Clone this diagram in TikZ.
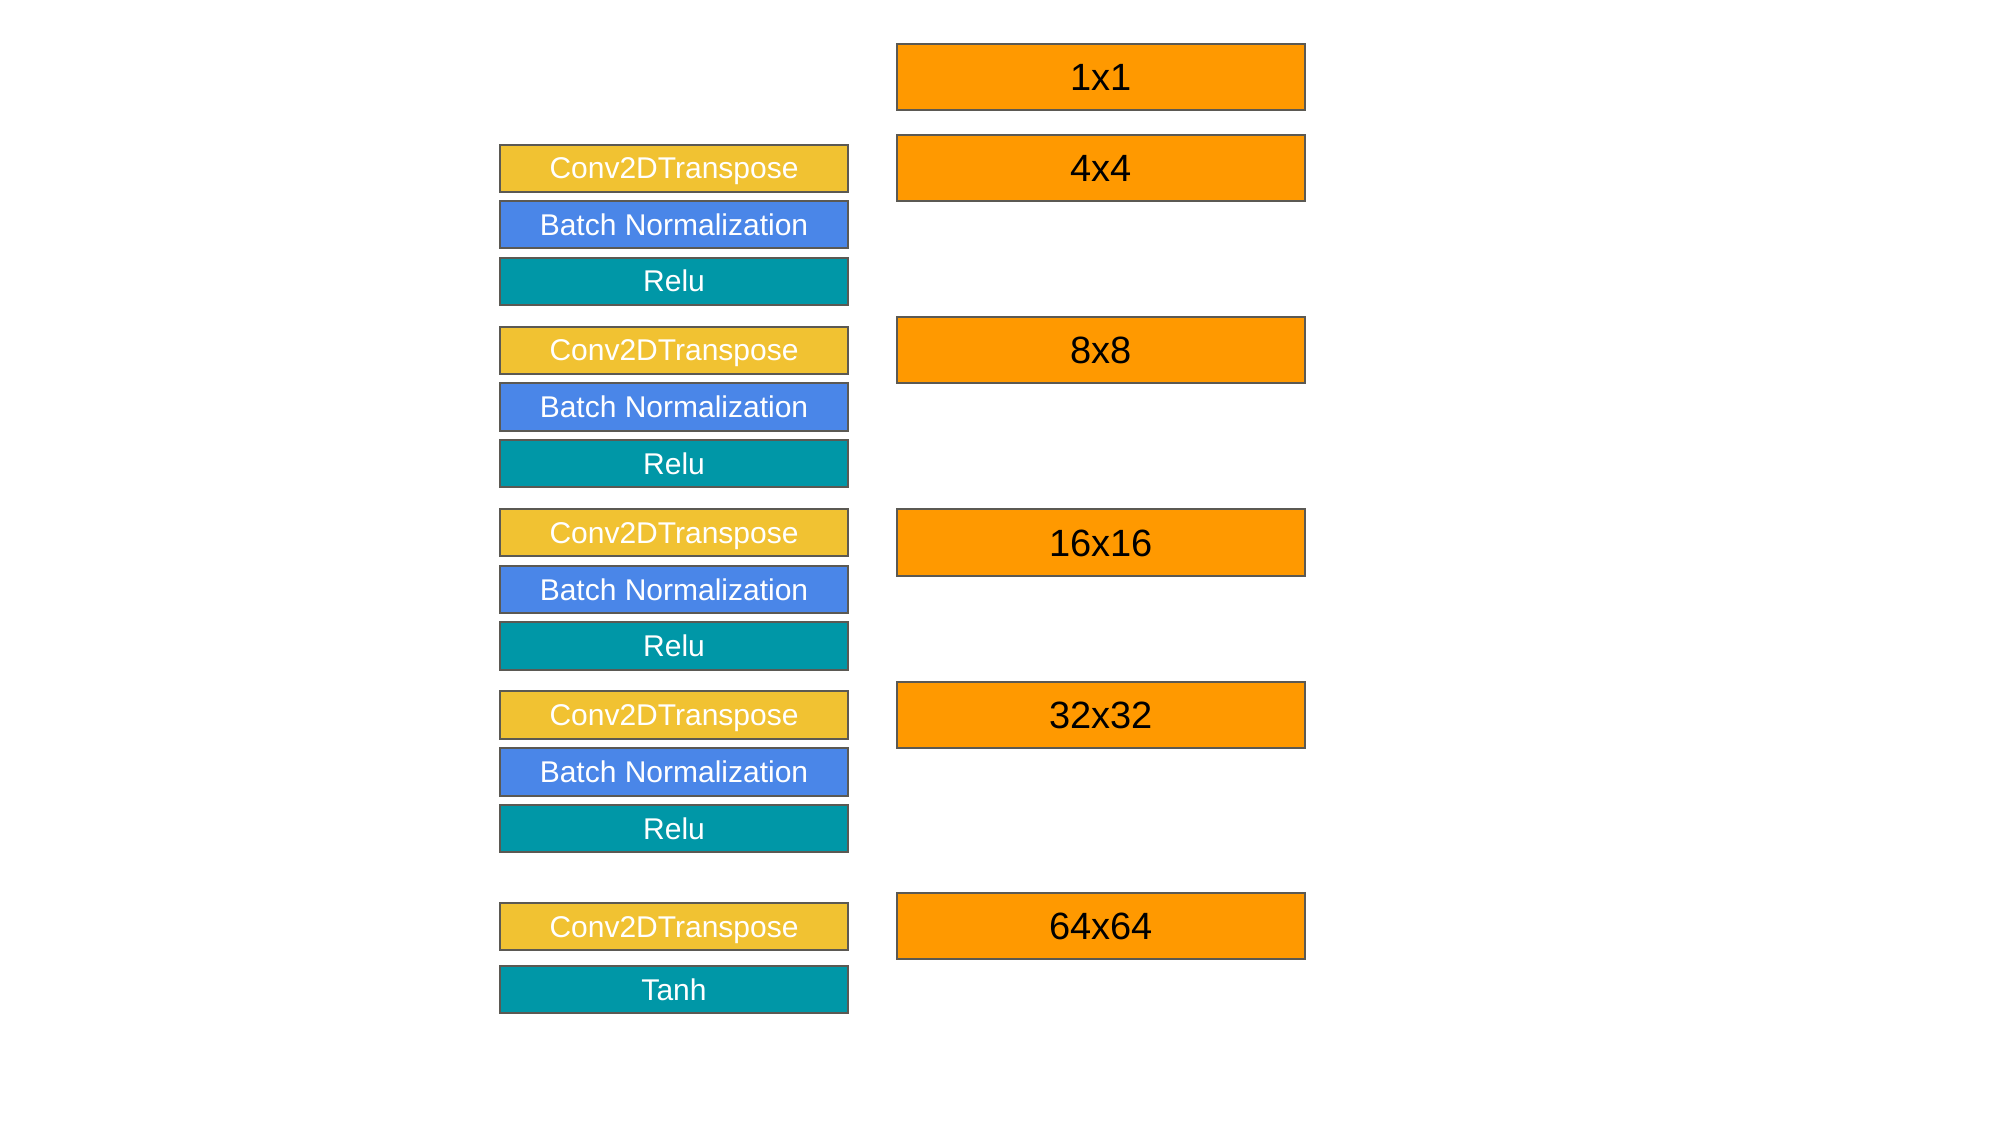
\documentclass[tikz,border=0pt]{standalone}
\usepackage{fontspec}
\setmainfont{Liberation Sans}
\definecolor{convc}{HTML}{F1C232}
\definecolor{bnc}{HTML}{4A86E8}
\definecolor{actc}{HTML}{0097A7}
\definecolor{sizec}{HTML}{FF9900}
\definecolor{edgec}{HTML}{5B5953}
\tikzset{
  layerbox/.style={draw=edgec, line width=1pt, inner sep=0pt, minimum width=174pt, minimum height=23.6pt, text=white, text height=10.74pt, text depth=0pt, font=\fontsize{15pt}{18pt}\selectfont},
  convbox/.style={layerbox, fill=convc},
  bnbox/.style={layerbox, fill=bnc},
  actbox/.style={layerbox, fill=actc},
  sizebox/.style={draw=edgec, line width=1pt, inner sep=0pt, minimum width=204pt, minimum height=33.2pt, fill=sizec, text=black, text height=13.6pt, text depth=0pt, font=\fontsize{19pt}{22pt}\selectfont}
}
\begin{document}
\begin{tikzpicture}[x=0.5pt,y=-0.5pt]
\useasboundingbox (0,0) rectangle (2000,1125);
% left column
\node[convbox] (c1) at (674,168.25) {Conv2DTranspose};
\node[bnbox]   (b1) at (674,224.5) {Batch Normalization};
\node[actbox]  (r1) at (674,281.25) {Relu};
\node[convbox] (c2) at (674,350.25) {Conv2DTranspose};
\node[bnbox]   (b2) at (674,407) {Batch Normalization};
\node[actbox]  (r2) at (674,463.5) {Relu};
\node[convbox] (c3) at (674,532.5) {Conv2DTranspose};
\node[bnbox]   (b3) at (674,589.25) {Batch Normalization};
\node[actbox]  (r3) at (674,646) {Relu};
\node[convbox] (c4) at (674,715) {Conv2DTranspose};
\node[bnbox]   (b4) at (674,772) {Batch Normalization};
\node[actbox]  (r4) at (674,828.25) {Relu};
\node[convbox] (c5) at (674,926.25) {Conv2DTranspose};
\node[actbox]  (t5) at (674,989.25) {Tanh};
% right column
\node[sizebox] (s0) at (1101,77) {1x1};
\node[sizebox] (s1) at (1101,168) {4x4};
\node[sizebox] (s2) at (1101,350.25) {8x8};
\node[sizebox] (s3) at (1101,542.5) {16x16};
\node[sizebox] (s4) at (1101,715) {32x32};
\node[sizebox] (s5) at (1101,926.25) {64x64};
\end{tikzpicture}
\end{document}
